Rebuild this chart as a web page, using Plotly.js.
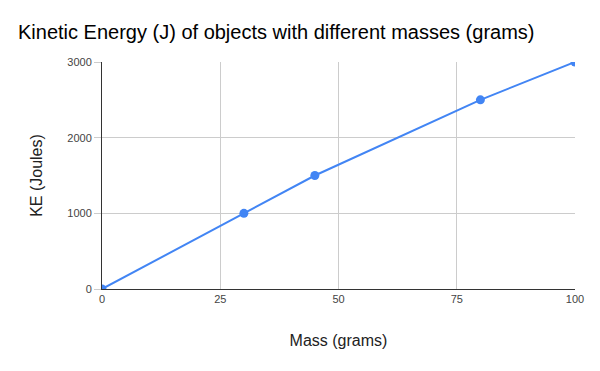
<!DOCTYPE html>
<html><head><meta charset="utf-8">
<script src="https://cdn.plot.ly/plotly-3.0.1.min.js"></script>
<style>html,body{margin:0;padding:0;background:#fff}#chart{width:600px;height:371px}</style>
</head><body><div id="chart"></div>
<script>
const mass = [0, 30, 45, 80, 100];
const ke = [0, 1000, 1500, 2500, 3000];
const xTicks = [0, 25, 50, 75, 100];
const yTicks = [0, 1000, 2000, 3000];

const trace = {
  x: mass, y: ke, type: 'scatter', mode: 'lines+markers',
  line: {color: '#4285F4', width: 2},
  marker: {color: '#4285F4', size: 9},
  cliponaxis: true, hoverinfo: 'none'
};
const layout = {
  width: 600, height: 371,
  margin: {l: 102, r: 25, t: 62, b: 82},
  paper_bgcolor: '#fff', plot_bgcolor: '#fff',
  font: {family: 'Liberation Sans, Arial, sans-serif', color: '#222'},
  title: {text: 'Kinetic Energy (J) of objects with different masses (grams)',
    font: {size: 20, color: '#000'}, x: 0.03, xanchor: 'left', y: 0.915, yanchor: 'middle'},
  showlegend: false,
  xaxis: {
    range: [0, 100], tickvals: xTicks, ticktext: xTicks.map(String),
    showgrid: true, gridcolor: '#cccccc', gridwidth: 1,
    showline: true, linecolor: '#333', linewidth: 1,
    zeroline: false, ticks: '', tickfont: {size: 11, color: '#444'},
    title: {text: 'Mass (grams)', font: {size: 16, color: '#222'}, standoff: 30}
  },
  yaxis: {
    range: [0, 3000], tickvals: yTicks, ticktext: yTicks.map(String),
    showgrid: true, gridcolor: '#cccccc', gridwidth: 1,
    showline: true, linecolor: '#333', linewidth: 1,
    zeroline: false, ticks: 'outside', ticklen: 7, tickcolor: '#cccccc',
    tickfont: {size: 11, color: '#444'},
    title: {text: 'KE (Joules)', font: {size: 16, color: '#222'}, standoff: 20}
  }
};
Plotly.newPlot('chart', [trace], layout, {staticPlot: true});
</script></body></html>
